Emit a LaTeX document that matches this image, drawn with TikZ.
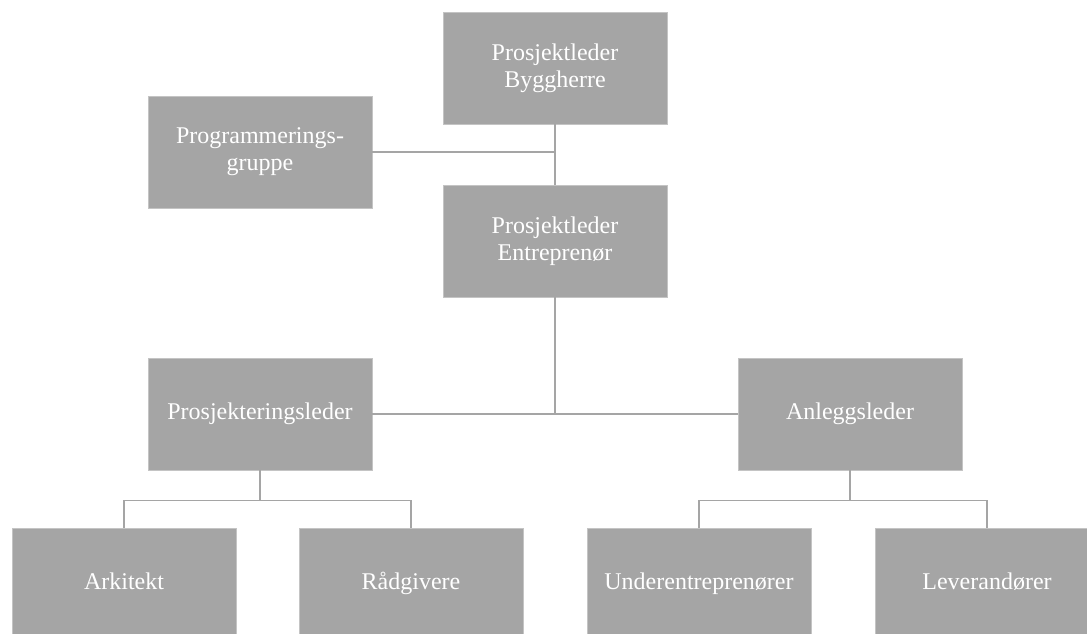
\documentclass[tikz,border=0pt]{standalone}
\usepackage{fontspec}
\setmainfont{Liberation Serif}
\usepackage{tikz}

\definecolor{boxgray}{HTML}{A5A5A5}
\definecolor{edgegray}{HTML}{C4C4C4}

\begin{document}
\begin{tikzpicture}[x=1pt, y=-1pt,
  every node/.style = {shape=rectangle,
    draw=edgegray, line width=0.8pt, fill=boxgray, align=center,
    text=white, inner sep=0pt,
    minimum width=224pt, minimum height=112pt,
    font=\fontsize{24}{27}\selectfont},
  oneline/.style = {text height=16pt, text depth=5pt},
  link/.style = {draw=boxgray, line width=1.6pt}]
  \clip (0,0) rectangle (1087,633);
  \fill[white] (0,0) rectangle (1087,633);
  % top part
  \node (bh) at (555,68) {Prosjektleder\\Byggherre};
  \node (prog) at (260,152) {Programmerings-\\gruppe};
  \node (pe) at (555,241) {Prosjektleder\\Entreprenør};
  % middle
  \node[oneline] (prl) at (260,414) {Prosjekteringsleder};
  \node[oneline] (al) at (850,414) {Anleggsleder};
  % bottom row
  \node[oneline] (ark) at (124,584) {Arkitekt};
  \node[oneline] (rad) at (411,584) {Rådgivere};
  \node[oneline] (ue) at (699,584) {Underentreprenører};
  \node[oneline] (lev) at (987,584) {Leverandører};

  \draw[link] (bh.south) -- (pe.north);
  \draw[link] (prog.east) -- (prog.east -| bh.south);
  \draw[link] (pe.south) -- (pe.south |- prl.east);
  \draw[link] (prl.east) -- (al.west);
  \draw[link] (prl.south) -- ++(0,30) coordinate (prlfork) -| (ark.north);
  \draw[link] (prlfork) -| (rad.north);
  \draw[link] (al.south) -- ++(0,30) coordinate (alfork) -| (ue.north);
  \draw[link] (alfork) -| (lev.north);
\end{tikzpicture}
\end{document}
